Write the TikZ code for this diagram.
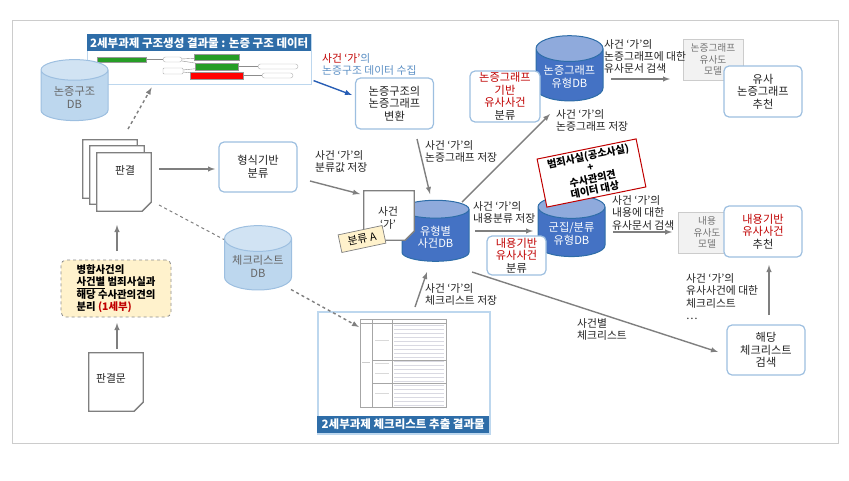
\documentclass[tikz,border=0pt]{standalone}
\usepackage{fontspec}
\setmainfont{Noto Sans CJK KR}
\usetikzlibrary{shapes.geometric}
\definecolor{linegray}{HTML}{7F7F7F}
\definecolor{boxblue}{HTML}{9DBFE0}
\definecolor{lightdb}{HTML}{BDD7EE}
\definecolor{darkdb}{HTML}{4472C4}
\definecolor{capdb}{HTML}{8FAADC}
\definecolor{banner}{HTML}{2E6DA8}
\definecolor{note}{HTML}{FFF2CC}
\definecolor{redtxt}{HTML}{C00000}
\definecolor{bluetxt}{HTML}{5B8FC4}
\definecolor{modelgray}{HTML}{F2F2F2}
\definecolor{txt}{HTML}{222222}
\tikzset{
	every node/.style={font=\fontsize{10.8}{12.2}\selectfont, text=txt, align=center, inner sep=0pt},
	boxfont/.style={font=\fontsize{11.2}{12.6}\selectfont},
	arr/.style={draw=linegray, line width=1.4pt, -latex},
	darr/.style={arr, dashed},
	dline/.style={draw=linegray, line width=1pt, dashed},
	stepbox/.style={boxfont, draw=boxblue, line width=1.2pt, rounded corners=5pt, fill=white, minimum width=#1},
	stepbox/.default=78pt,
	dbcyl/.style={boxfont, cylinder, shape border rotate=90, aspect=0.5, minimum width=67pt, minimum height=61pt},
	lightcyl/.style={dbcyl, draw=boxblue, line width=1pt, cylinder uses custom fill, cylinder body fill=lightdb, cylinder end fill=lightdb!70!white, text=black!60},
	darkcyl/.style={dbcyl, draw=banner, line width=1pt, cylinder uses custom fill, cylinder body fill=darkdb, cylinder end fill=capdb, text=white},
	model/.style={draw=black!20, line width=1pt, fill=modelgray, text=black!55, font=\fontsize{9.7}{11.5}\selectfont, minimum width=60pt, minimum height=41pt},
	page/.style={minimum width=#1, minimum height=58pt},
	label/.style={align=left, anchor=north west},
	bannertxt/.style={fill=banner, text=white, font=\fontsize{11.5}{13}\bfseries\selectfont, minimum height=17pt},
	shot/.style={draw=lightdb, fill=white},
	tinybox/.style={draw=black!40, line width=.2pt},
	tinyoval/.style={draw=black!30, line width=.4pt, rounded corners=2.5pt, fill=white},
}
% sheet with a folded lower corner, drawn round an empty node
\newcommand{\foldsheet}[1]{
	\draw[line width=1.3pt, draw=linegray, fill=white] (#1.north west) -- (#1.north east) -- ([yshift=9pt]#1.south east) -- ([xshift=-9pt]#1.south east) -- (#1.south west) -- cycle;
	\draw[line width=.8pt, draw=linegray, fill=black!25] ([yshift=9pt]#1.south east) -- ([shift={(-7,-2)}]#1.south east) -- ([xshift=-9pt]#1.south east) -- cycle;
}
\begin{document}
\begin{tikzpicture}[x=1pt, y=-1pt]
	\useasboundingbox (0,0) rectangle (849,480);
	\draw[draw=black!20, line width=1pt] (12,20) rectangle (838,443);

	% upper result panel
	\node[shot, line width=1.2pt, anchor=north west, minimum width=224pt, minimum height=50pt] (treeshot) at (87,34) {};
	\node[bannertxt, anchor=north west, minimum width=224pt] (treehead) at (87,34) {2세부과제 구조생성 결과물 : 논증 구조 데이터};
	\node[tinybox, fill=green!55!black!85, minimum width=49pt, minimum height=5pt] (ga) at (122,59.5) {};
	\node[tinybox, fill=green!55!black!85, minimum width=45pt, minimum height=6pt] (gb) at (217,57) {};
	\node[tinybox, fill=green!55!black!85, minimum width=43pt, minimum height=7pt] (gc) at (217,66.5) {};
	\node[tinybox, fill=red, minimum width=53pt, minimum height=7pt] (gd) at (217,75.5) {};
	\node[tinyoval, minimum width=19pt, minimum height=5pt] (oa) at (172.5,59.5) {};
	\node[tinyoval, minimum width=40pt, minimum height=5pt] (ob) at (278,66.5) {};
	\node[tinyoval, minimum width=31pt, minimum height=5pt] (oc) at (277.5,75.5) {};
	\node[tinyoval, rounded corners=1pt, minimum width=20pt, minimum height=6pt] (oh) at (173,71) {};
	\foreach \a/\b in {ga/oa, oa/gb, oa/gc, oh/gc, oh/gd, gc/ob, gd/oc}
		\draw[black!45, line width=.4pt] (\a) -- (\b);

	% left column
	\node[lightcyl] (argdb) at (74.5,95.5) {\mbox{}\\논증구조\\DB};
	\node[page=54pt] (backa) at (110,169) {};
	\node[page=54pt] (backb) at (117,175) {};
	\node[page=54pt] (ruling) at (124,182) {};
	\foldsheet{backa}
	\foldsheet{backb}
	\foldsheet{ruling}
	\node (rulingtxt) at (125,170) {판결};
	\node[stepbox, minimum height=50pt] (formbox) at (258,167) {형식기반\\분류};
	\node[draw=black!45, dashed, line width=.8pt, fill=note, rounded corners=5pt, minimum width=110pt, minimum height=57pt, align=left, text=black, font=\fontsize{10.4}{12.4}\bfseries\selectfont] (splitbox) at (116,288.5) {병합사건의\\\underline{사건별} 범죄사실과\\해당 수사관의견의\\분리 {\color{redtxt}(1세부)}};
	\node[page=54pt] (source) at (116,382) {};
	\foldsheet{source}
	\node (sourcetxt) at (111,378) {판결문};
	\node[lightcyl] (checkdb) at (258,264.5) {\mbox{}\\체크리스트\\DB};

	% lower result panel
	\node[shot, line width=2pt, anchor=north west, minimum width=172pt, minimum height=122pt] (tableshot) at (317,311) {};
	\node[bannertxt, anchor=south west, minimum width=172pt] (tablehead) at (317,433) {2세부과제 체크리스트 추출 결과물};
	\draw[black!35, line width=.5pt] (360,319) rectangle (446,407);
	\foreach \x in {372,392}
		\draw[black!35, line width=.5pt] (\x,319) -- (\x,407);
	\foreach \y in {323,360,383}
		\draw[black!35, line width=.4pt] (372,\y) -- (446,\y);
	\draw[black!35, line width=.4pt] (360,323) -- (372,323);
	\foreach \y in {325,329,...,405}
		\draw[blue!25!black!15, line width=.8pt] (394,\y) -- (444,\y);
	\foreach \y in {340,363,373,393}
		\draw[black!15, line width=.8pt] (375,\y) -- (389,\y);
	\draw[black!20, line width=.8pt] (362,362) -- (370,362);

	% middle column
	\node[stepbox, minimum height=51pt] (convbox) at (394.5,103.5) {논증구조의\\논증그래프\\변환};
	\node[darkcyl] (typedb) at (435.5,235.5) {\mbox{}\\유형별\\사건DB};
	\node[page=50pt, minimum height=49pt] (casepage) at (389,215.5) {};
	\foldsheet{casepage}
	\node (casetxt) at (388,218) {사건\\‘가’};
	\node[draw=black!50, line width=.7pt, fill=note, rotate=12, minimum width=45pt, minimum height=18pt, text=black] (tagbox) at (362,239) {분류 A};
	\node[darkcyl] (graphdb) at (569.5,75) {\mbox{}\\논증그래프\\유형DB};
	\node[stepbox=70pt, minimum height=51pt] (graphbox) at (505,96.5) {{\color{redtxt}논증그래프}\\{\color{redtxt}기반}\\{\color{redtxt}유사사건}\\분류};
	\node[darkcyl] (clusterdb) at (571.5,232) {\mbox{}\\군집/분류\\유형DB};
	\node[stepbox=59pt, minimum height=39pt] (contbox) at (516.5,255.5) {{\color{redtxt}내용기반}\\{\color{redtxt}유사사건}\\분류};
	\node[draw=redtxt, line width=1pt, fill=white, rotate=11.5, minimum width=101pt, minimum height=49pt, text=black, font=\fontsize{10.2}{11.5}\bfseries\selectfont] (crimebox) at (591.5,173) {범죄사실(공소사실)\\+\\수사관의견\\데이터 대상};

	% right column
	\node[model] (graphmodel) at (713,59.5) {논증그래프\\유사도\\모델};
	\node[stepbox, minimum height=51pt] (simbox) at (763,91.5) {유사\\논증그래프\\추천};
	\node[model, minimum width=58pt] (contmodel) at (707,232.5) {내용\\유사도\\모델};
	\node[stepbox, minimum height=51pt] (recbox) at (763,231.5) {{\color{redtxt}내용기반}\\{\color{redtxt}유사사건}\\추천};
	\node[stepbox, minimum height=50pt] (findbox) at (766,350) {해당\\체크리스트\\검색};

	% connectors
	\draw[darr] ([shift={(4,-53)}]ruling.center) -- ([shift={(-48,28)}]treeshot.center);
	\draw[arr] ([shift={(35,-13)}]ruling.center) -- ([shift={(-43,2)}]formbox.center);
	\draw[dline] ([shift={(35,23)}]ruling.center) -- ([shift={(-34,-25)}]checkdb.center);
	\draw[darr] ([shift={(33,25)}]checkdb.center) -- ([shift={(-45,-46)}]tableshot.center);
	\draw[arr] ([shift={(1,-37.5)}]splitbox.center) -- ([shift={(-7,43)}]ruling.center);
	\draw[arr] ([shift={(1,-33)}]source.center) -- ([shift={(1,34.5)}]splitbox.center);
	\draw[arr] ([shift={(11,-66)}]tableshot.center) -- ([shift={(-8.5,36.5)}]typedb.center);
	\draw[arr, draw=banner!85!blue] ([shift={(114,21)}]treeshot.center) -- ([shift={(-42.5,-8.5)}]convbox.center);
	\draw[arr] ([shift={(52,14)}]formbox.center) -- ([shift={(-29,-21.5)}]casepage.center);
	\draw[arr] ([shift={(22.5,35.5)}]convbox.center) -- ([shift={(-5.5,-41.5)}]typedb.center);
	\draw[arr] ([shift={(26.5,-33.5)}]typedb.center) -- ([shift={(-19.5,39)}]graphdb.center);
	\draw[arr] ([shift={(39.5,-4.5)}]typedb.center) -- ([shift={(-38.5,-1)}]clusterdb.center);
	\draw[arr] ([shift={(36.5,36.5)}]typedb.center) -- ([shift={(-48,2)}]findbox.center);
	\draw[arr] ([shift={(41.5,4)}]graphdb.center) -- ([shift={(-43,19.5)}]graphmodel.center);
	\draw[arr] ([shift={(41.5,0)}]clusterdb.center) -- ([shift={(-35,-.5)}]contmodel.center);
	\draw[arr] ([shift={(3,-35)}]findbox.center) -- ([shift={(6,33.5)}]recbox.center);

	% labels
	\node[label] (l1) at (322,53) {{\color{redtxt}사건 ‘가’}{\color{bluetxt}의}\\{\color{bluetxt}논증구조 데이터 수집}};
	\node[label] (l2) at (315,150.5) {사건 ‘가’의\\분류값 저장};
	\node[label] (l3) at (425,140.5) {사건 ‘가’의\\논증그래프 저장};
	\node[label] (l4) at (473,201.5) {사건 ‘가’의\\내용분류 저장};
	\node[label] (l5) at (425,283.5) {사건 ‘가’의\\체크리스트 저장};
	\node[label] (l6) at (556,109.5) {사건 ‘가’의\\논증그래프 저장};
	\node[label] (l7) at (604,39) {사건 ‘가’의\\논증그래프에 대한\\유사문서 검색};
	\node[label] (l8) at (612,195.5) {사건 ‘가’의\\내용에 대한\\유사문서 검색};
	\node[label] (l9) at (577,318.5) {사건별\\체크리스트};
	\node[label] (l10) at (686,273.5) {사건 ‘가’의\\유사사건에 대한\\체크리스트\\…};
\end{tikzpicture}
\end{document}
